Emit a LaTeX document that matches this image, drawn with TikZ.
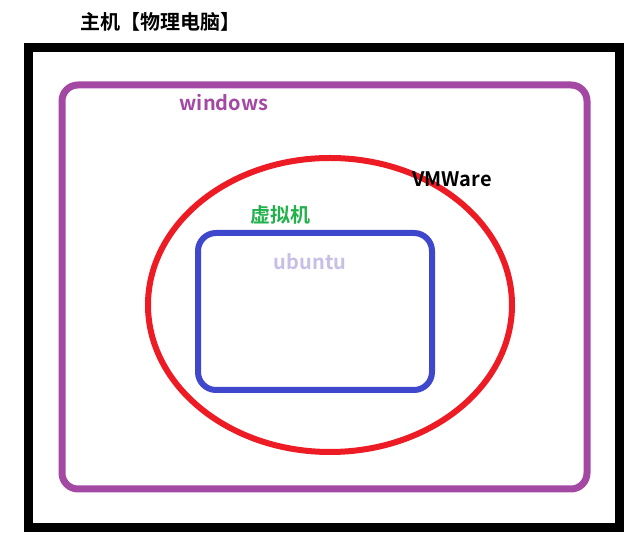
\documentclass[tikz,border=0pt]{standalone}
\usepackage{fontspec}
\newfontfamily\cjk{Noto Sans CJK SC}[BoldFont={Noto Sans CJK SC Bold}]
\definecolor{hostblack}{HTML}{000000}
\definecolor{winpurple}{HTML}{A349A4}
\definecolor{vmred}{HTML}{ED1C24}
\definecolor{ubublue}{HTML}{3F48CC}
\definecolor{vmgreen}{HTML}{22B14C}
\definecolor{ubulilac}{HTML}{C8BFE7}
\tikzset{label text/.style={font=\cjk\bfseries\fontsize{20}{22}\selectfont, inner sep=0pt}}
\begin{document}
\begin{tikzpicture}[x=1pt,y=1pt]
		\useasboundingbox (0,0) rectangle (642,545);
		% Host machine
		\draw[line width=9pt,color=hostblack] (28,497) rectangle (619,17);
		\node[label text,color=hostblack] (host) at (160,523) {主机【物理电脑】};
		% Windows
		\draw[line width=7pt,color=winpurple,rounded corners=16pt] (62,460) rectangle (587,56);
		\node[label text,color=winpurple] (windows) at (224,442) {windows};
		% VMWare
		\draw[line width=6pt,color=vmred] (330,240) ellipse[x radius=182,y radius=147];
		\node[label text,color=hostblack] (vmware) at (452,366) {VMWare};
		\node[label text,color=vmgreen] (vm) at (280,330) {虚拟机};
		% Ubuntu
		\draw[line width=6pt,color=ubublue,rounded corners=18pt] (198,312) rectangle (432,155);
		\node[label text,color=ubulilac] (ubuntu) at (310,283) {ubuntu};
\end{tikzpicture}
\end{document}
